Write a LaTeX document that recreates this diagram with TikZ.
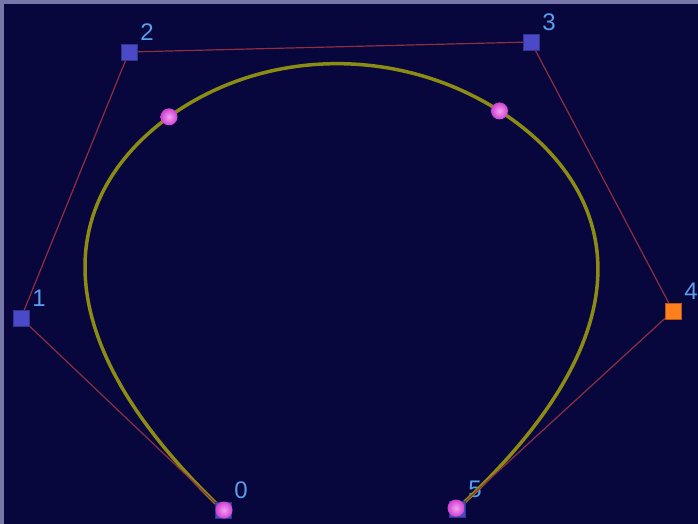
\documentclass[tikz,border=0pt]{standalone}
\usepackage{fontspec}
\setmainfont{Liberation Sans}
\usepackage{xcolor}
\usetikzlibrary{positioning, calc, shapes.geometric}

\definecolor{frame}{HTML}{7676A8}
\definecolor{navy}{HTML}{07073D}
\definecolor{polyred}{HTML}{8E2E40}
\definecolor{olive}{HTML}{8C8C14}
\definecolor{ptblue}{HTML}{4A4AC8}
\definecolor{ptorange}{HTML}{FF7F1E}
\definecolor{lblblue}{HTML}{5C9CEC}
\definecolor{sphin}{HTML}{F4A0F4}
\definecolor{sphout}{HTML}{D040D0}

\begin{document}
\begin{tikzpicture}[
    x=1pt, y=-1pt,
    ctrl/.style={rectangle, draw=ptblue!70!black, fill=ptblue,
                 minimum size=16pt, inner sep=0pt, line width=0.8pt},
    hot/.style={ctrl, draw=ptorange!70!black, fill=ptorange},
    knot/.style={circle, shading=radial, inner color=sphin,
                 outer color=sphout, minimum size=17pt, inner sep=0pt},
    poly/.style={polyred, line width=1.2pt},
    spline/.style={olive, line width=3.5pt},
    lbl/.style={text=lblblue, font=\fontsize{24}{24}\selectfont, inner sep=0pt},
]
\useasboundingbox (0,0) rectangle (698,524);
\fill[frame] (0,0) rectangle (698,524);
\fill[navy] (4,4) rectangle (698,524);

% --- control points ---
\coordinate (c0) at (223,510);
\coordinate (c1) at (21,318);
\coordinate (c2) at (129,52);
\coordinate (c3) at (531,42);
\coordinate (c4) at (673,311);
\coordinate (c5) at (457,509);

% --- labels ---
\foreach \i in {0,...,5}
    \node[lbl] (l\i) at ($(c\i)+(18,-20)$) {\i};

% --- Bezier pieces of the cubic B-spline ---
\coordinate (a) at ($(c1)!.5!(c2)$);
\coordinate (b) at ($(c2)!1/3!(c3)$);
\coordinate (k1) at ($(a)!.5!(b)$);
\coordinate (c) at ($(c2)!2/3!(c3)$);
\coordinate (d) at ($(c3)!.5!(c4)$);
\coordinate (k2) at ($(c)!.5!(d)$);

\draw[spline] (c0) .. controls (c1) and (a) .. (k1)
    .. controls (b) and (c) .. (k2)
    .. controls (d) and (c4) .. (c5);

% --- control polygon ---
\draw[poly] (c0) -- (c1) -- (c2) -- (c3) -- (c4) -- (c5);

\node[ctrl] (p0) at (c0) {};
\node[ctrl] (p1) at (c1) {};
\node[ctrl] (p2) at (c2) {};
\node[ctrl] (p3) at (c3) {};
\node[hot]  (p4) at (c4) {};
\node[ctrl] (p5) at (c5) {};

% --- knots ---
\node[knot] (s0) at ($(c0)+(1,0)$) {};
\node[knot] (s1) at (k1) {};
\node[knot] (s2) at (k2) {};
\node[knot] (s3) at ($(c5)+(-1,-1)$) {};
\end{tikzpicture}
\end{document}
